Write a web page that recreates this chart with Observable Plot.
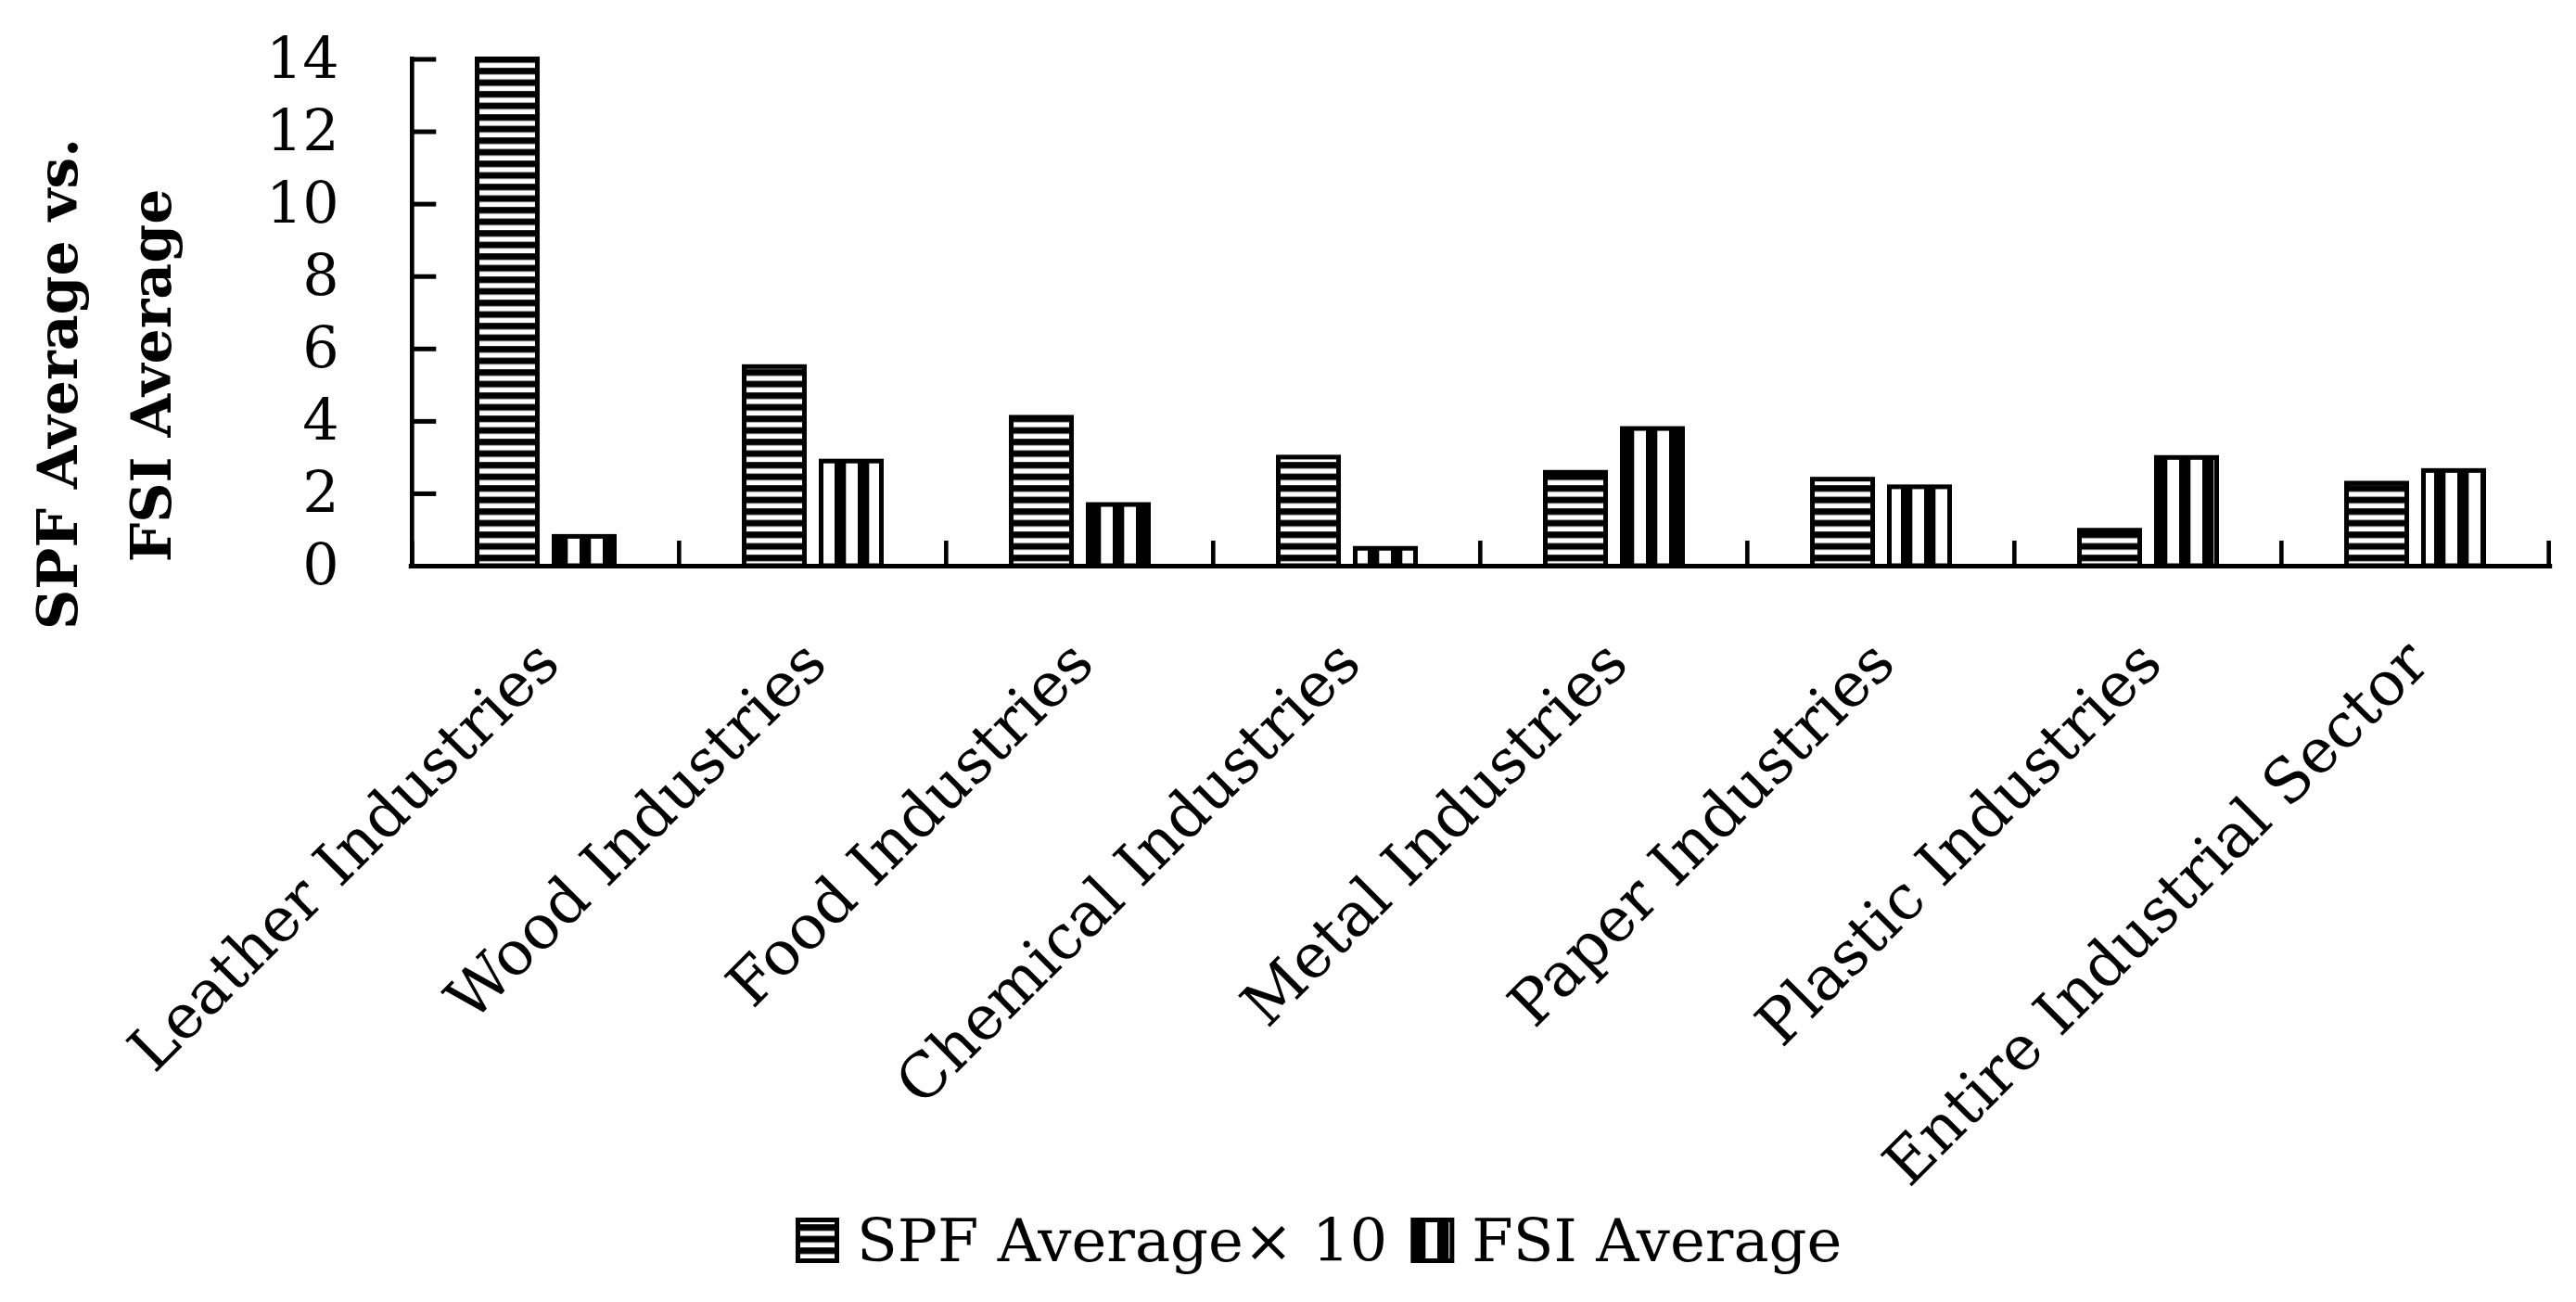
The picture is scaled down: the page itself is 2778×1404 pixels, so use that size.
<!DOCTYPE html>
<html>
<head>
<meta charset="utf-8">
<script src="https://cdn.jsdelivr.net/npm/d3@7"></script>
<script src="https://cdn.jsdelivr.net/npm/@observablehq/plot@0.6"></script>
<style>
  html, body { margin: 0; padding: 0; background: #fff; }
  #wrap { position: relative; width: 2778px; height: 1404px; background: #fff; overflow: hidden; }
  #wrap svg { display: block; }
</style>
</head>
<body>
<svg width="0" height="0" style="position:absolute;left:0;top:0">
  <defs>
    <pattern id="hstripe" patternUnits="userSpaceOnUse" x="0" y="0" width="25" height="12.5">
      <rect width="25" height="12.5" fill="#000"></rect>
      <rect y="5.2" width="25" height="5.5" fill="#fff"></rect>
    </pattern>
    <pattern id="vstripe" patternUnits="userSpaceOnUse" x="0" y="0" width="25" height="25">
      <rect width="25" height="25" fill="#fff"></rect>
      <rect width="12.3" height="25" fill="#000"></rect>
    </pattern>
  </defs>
</svg>
<div id="wrap"></div>
<script>
const categories = [
  "Leather Industries", "Wood Industries", "Food Industries", "Chemical Industries",
  "Metal Industries", "Paper Industries", "Plastic Industries", "Entire Industrial Sector"
];
const spfValues = [14.0, 5.5, 4.1, 3.0, 2.58, 2.39, 0.98, 2.28];
const fsiValues = [0.81, 2.89, 1.69, 0.48, 3.79, 2.18, 2.99, 2.63];
const yTicks = [0, 2, 4, 6, 8, 10, 12, 14];
const seriesNames = ["SPF Average\u00d7 10", "FSI Average"];
const yTitleLines = ["SPF Average vs.", "FSI Average"];

const spfRows = categories.map((c, i) => ({category: c, value: spfValues[i]}));
const fsiRows = categories.map((c, i) => ({category: c, value: fsiValues[i]}));

const W = 2778, H = 1310;
const mL = 443.3, mR = 28.3, mT = 63.5, mB = H - 610;
const frameW = W - mL - mR;
const frameH = H - mT - mB;
const step = frameW / categories.length;
const font = "DejaVu Serif";

const plot = Plot.plot({
  width: W, height: H,
  marginLeft: mL, marginRight: mR, marginTop: mT, marginBottom: mB,
  style: {fontFamily: font, background: "#fff", color: "#000"},
  x: {domain: categories, padding: 0},
  y: {domain: [0, 14]},
  marks: [
    Plot.barY(spfRows, {x: "category", y: "value", fill: "url(#hstripe)", stroke: "#000", strokeWidth: 5,
      insetLeft: 70.5, insetRight: 152.5}),
    Plot.barY(fsiRows, {x: "category", y: "value", fill: "url(#vstripe)", stroke: "#000", strokeWidth: 5,
      insetLeft: 153.5, insetRight: 69.5}),
    // baseline
    Plot.ruleY([0], {y: d => d, stroke: "#000", strokeWidth: 5, insetLeft: -2.5, insetRight: -2.5}),
    // category boundary ticks
    Plot.ruleX(categories, {x: d => d, dx: -step / 2, stroke: "#000", strokeWidth: 4.6, insetTop: frameH - 27}),
    Plot.ruleX(categories.slice(-1), {x: d => d, dx: step / 2, stroke: "#000", strokeWidth: 4.6, insetTop: frameH - 27}),
    // y axis line
    Plot.ruleX(categories.slice(0, 1), {x: d => d, dx: -step / 2, stroke: "#000", strokeWidth: 4.7, insetTop: -2.5, insetBottom: -2.5}),
    // inward y ticks
    Plot.ruleY(yTicks, {y: d => d, stroke: "#000", strokeWidth: 5, insetRight: frameW - 27}),
    Plot.axisY(yTicks, {tickSize: 0, tickPadding: 78, fontSize: 62, fontFamily: font, label: null}),
    Plot.axisX({tickSize: 0, tickPadding: 93, dx: 3, tickRotate: -45, fontSize: 66, fontFamily: font, label: null})
  ]
});

const wrap = document.getElementById("wrap");
wrap.appendChild(plot);

// y-axis title (two lines)
const svg = d3.select(plot);
svg.append("text")
  .attr("transform", "translate(83,414) rotate(-90)")
  .attr("text-anchor", "middle")
  .attr("font-family", font).attr("font-weight", "bold").attr("font-size", 60).attr("fill", "#000")
  .text(yTitleLines[0]);
svg.append("text")
  .attr("transform", "translate(184,405) rotate(-90)")
  .attr("text-anchor", "middle")
  .attr("font-family", font).attr("font-weight", "bold").attr("font-size", 60).attr("fill", "#000")
  .text(yTitleLines[1]);

// legend below the chart (transparent, overlapping the bottom margin)
const legTop = 1272;
const leg = d3.select(wrap).append("svg")
  .attr("width", W).attr("height", 1404 - legTop)
  .style("position", "absolute").style("left", "0px").style("top", legTop + "px")
  .style("background", "transparent");
const baseY = 1360 - legTop;
let x = 858;
const fills = ["url(#hstripe)", "url(#vstripe)"];
seriesNames.forEach((name, i) => {
  leg.append("rect")
    .attr("x", x + 2.5).attr("y", 1313 - legTop + 2.5).attr("width", 42).attr("height", 44)
    .attr("fill", fills[i]).attr("stroke", "#000").attr("stroke-width", 5);
  x += 47 + 19;
  const t = leg.append("text")
    .attr("x", x).attr("y", baseY)
    .attr("font-family", font).attr("font-size", 64).attr("fill", "#000")
    .text(name);
  x += t.node().getComputedTextLength() + 25;
});
</script>
</body>
</html>
